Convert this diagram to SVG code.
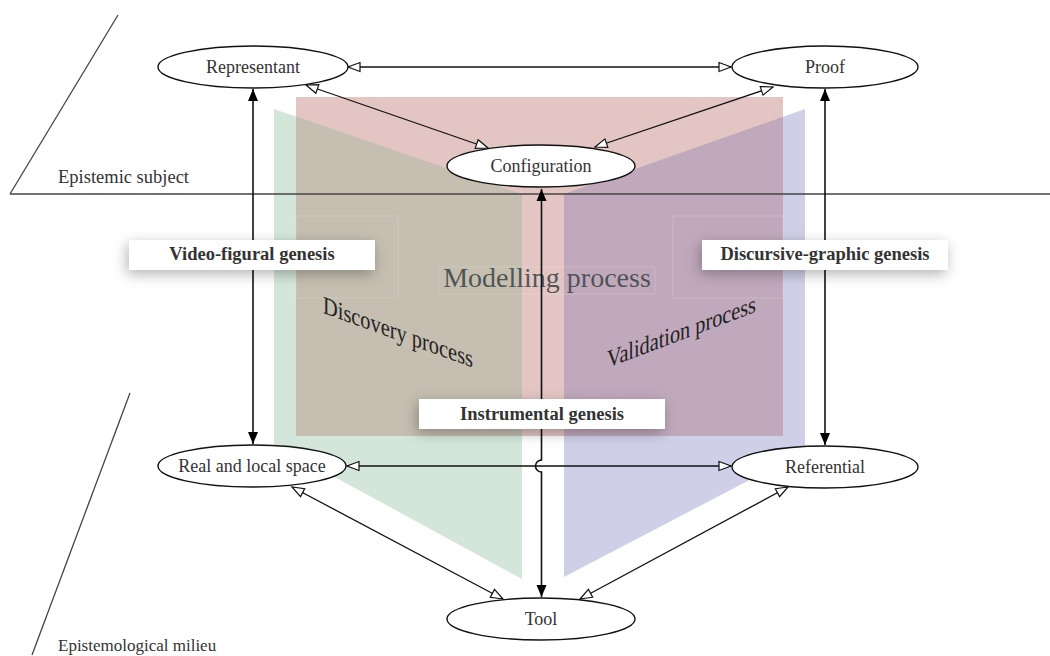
<svg xmlns="http://www.w3.org/2000/svg" width="1050" height="656" viewBox="0 0 1050 656">
<style>
  .node ellipse { fill: #ffffff; stroke: #111111; stroke-width: 1.4; }
  .node text { font-family: "Liberation Serif", "Times New Roman", serif; font-size: 18px; fill: #333333; text-anchor: middle; }
  .edge { fill: none; stroke: #111111; stroke-width: 1.3; }
  .bi-open { marker-start: url(#openHead); marker-end: url(#openHead); }
  .bi-fill { stroke-width: 1.6; marker-start: url(#fillHead); marker-end: url(#fillHead); }
  .frame { fill: none; stroke: #444444; stroke-width: 1.3; }
  .zone { font-family: "Liberation Serif", "Times New Roman", serif; fill: #333333; }
  .lbl rect { fill: #ffffff; filter: url(#shadow); }
  .lbl text { font-family: "Liberation Serif", "Times New Roman", serif; font-size: 18.5px; font-weight: bold; fill: #333333; text-anchor: middle; }
  .proc { font-family: "Liberation Serif", "Times New Roman", serif; }
  .faint { fill: none; stroke: #ffffff; stroke-opacity: 0.15; stroke-width: 1; }
</style>
<defs>
  <marker id="openHead" markerUnits="userSpaceOnUse" markerWidth="16" markerHeight="12" refX="12" refY="4.5" orient="auto-start-reverse" overflow="visible">
    <path d="M0,0 L12,4.5 L0,9 Z" fill="#ffffff" stroke="#111111" stroke-width="1.2"/>
  </marker>
  <marker id="fillHead" markerUnits="userSpaceOnUse" markerWidth="16" markerHeight="12" refX="12" refY="5" orient="auto-start-reverse" overflow="visible">
    <path d="M0,0 L12,5 L0,10 Z" fill="#000000"/>
  </marker>
  <filter id="shadow" x="-20%" y="-80%" width="140%" height="260%">
    <feDropShadow dx="-2" dy="4" stdDeviation="7" flood-color="#000000" flood-opacity="0.3"/>
  </filter>
</defs>

<g id="background">
  <polygon points="274,109 522,194 522,579 274,444" fill="#d4e6da"/>
  <polygon points="805,109 564,194 564,577 805,451" fill="#cfd0e7"/>
  <rect x="296" y="97" width="487" height="339" fill="#e3c6c3"/>
  <polygon points="296,116.5 522,194 522,436 296,436" fill="#c5beb1"/>
  <polygon points="564,194 783,116.8 783,436 564,436" fill="#c1a9bd"/>
  <rect class="faint" x="296" y="216" width="102" height="82"/>
  <rect class="faint" x="673" y="216" width="110" height="82"/>
  <rect class="faint" x="439" y="267" width="216" height="27"/>
</g>

<g id="frames">
  <line class="frame" x1="10" y1="194" x2="118" y2="15"/>
  <line class="frame" x1="10" y1="194" x2="1050" y2="194"/>
  <line class="frame" x1="32" y1="655" x2="130" y2="393"/>
  <text class="zone" x="58" y="183" font-size="18.5">Epistemic subject</text>
  <text class="zone" x="58" y="651" font-size="17">Epistemological milieu</text>
</g>

<g id="processes">
  <text class="proc" x="547" y="287" font-size="28" text-anchor="middle" style="fill:#3e4846;fill-opacity:0.9">Modelling process</text>
  <text class="proc" transform="translate(323,313) skewY(20)" x="0" y="0" font-size="25" textLength="150" lengthAdjust="spacingAndGlyphs" style="fill:#222222">Discovery process</text>
  <text class="proc" transform="translate(607,368) skewY(-20.7)" x="0" y="0" font-size="25" textLength="149" lengthAdjust="spacingAndGlyphs" style="fill:#222222">Validation process</text>
</g>

<g id="connectors">
  <line class="edge bi-open" x1="348" y1="67" x2="731" y2="67"/>
  <line class="edge bi-open" x1="306" y1="85" x2="488" y2="148"/>
  <line class="edge bi-open" x1="773" y1="87" x2="595" y2="147"/>
  <line class="edge bi-open" x1="347" y1="466" x2="731" y2="466"/>
  <line class="edge bi-open" x1="292" y1="487" x2="503" y2="599"/>
  <line class="edge bi-open" x1="788" y1="487" x2="580" y2="599"/>
  <line class="edge bi-fill" x1="253" y1="89" x2="253" y2="444"/>
  <line class="edge bi-fill" x1="825" y1="89" x2="825" y2="445"/>
  <path class="edge bi-fill" d="M541.5,189 V460 A6,6 0 0 0 541.5,472 V597"/>
</g>

<g id="node-representant" class="node">
  <ellipse cx="253" cy="67" rx="95" ry="21"/>
  <text x="253" y="73">Representant</text>
</g>
<g id="node-proof" class="node">
  <ellipse cx="825" cy="67" rx="93" ry="21"/>
  <text x="825" y="73">Proof</text>
</g>
<g id="node-configuration" class="node">
  <ellipse cx="541" cy="166" rx="94" ry="21"/>
  <text x="541" y="172">Configuration</text>
</g>
<g id="node-real" class="node">
  <ellipse cx="252" cy="466" rx="94" ry="21"/>
  <text x="252" y="472">Real and local space</text>
</g>
<g id="node-referential" class="node">
  <ellipse cx="825" cy="467" rx="93" ry="21"/>
  <text x="825" y="473">Referential</text>
</g>
<g id="node-tool" class="node">
  <ellipse cx="541" cy="619" rx="94" ry="21"/>
  <text x="541" y="625">Tool</text>
</g>

<g id="label-video" class="lbl">
  <rect x="129" y="240" width="246" height="30"/>
  <text x="252" y="259.5">Video-figural genesis</text>
</g>
<g id="label-discursive" class="lbl">
  <rect x="702" y="240" width="246" height="30"/>
  <text x="825" y="259.5">Discursive-graphic genesis</text>
</g>
<g id="label-instrumental" class="lbl">
  <rect x="419" y="399" width="246" height="30"/>
  <text x="542" y="419.5">Instrumental genesis</text>
</g>
</svg>
